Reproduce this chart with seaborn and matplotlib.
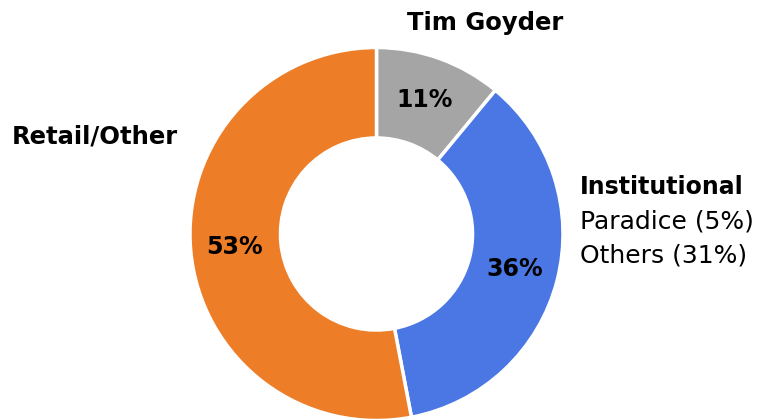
import matplotlib
matplotlib.use("Agg")
import matplotlib.pyplot as plt
import seaborn as sns

# Data
categories = ["Tim Goyder", "Institutional", "Retail/Other"]
shares = [11, 36, 53]
colors = ["#A5A5A5", "#4A77E3", "#ED7D27"]
inst_breakdown = ["Paradice (5%)", "Others (31%)"]

sns.set_theme(style="white")
plt.rcParams["font.family"] = ["DejaVu Sans"]

W, H = 780, 419
fig = plt.figure(figsize=(W / 100, H / 100), dpi=100)
fig.patch.set_facecolor("white")

# Donut axes, placed in pixel terms
cx, cy, R = 376.5, 419 - 234, 186.5
ax = fig.add_axes([(cx - R) / W, (cy - R) / H, 2 * R / W, 2 * R / H])
wedges, texts, autotexts = ax.pie(
    shares,
    colors=colors,
    startangle=90,
    counterclock=False,
    radius=1.0,
    autopct=lambda p: f"{p:.0f}%",
    pctdistance=0.765,
    wedgeprops=dict(width=0.485, edgecolor="white", linewidth=2.5),
    textprops=dict(fontsize=17, fontweight="bold", color="black"),
)
ax.set_xlim(-1, 1)
ax.set_ylim(-1, 1)
ax.set_aspect("equal")
ax.axis("off")

def fx(px):
    return px / W

def fy(py):
    return 1 - py / H

fig.text(fx(485), fy(23), categories[0], ha="center", va="center",
         fontsize=17.5, fontweight="bold", color="black")
fig.text(fx(12), fy(137), categories[2], ha="left", va="center",
         fontsize=17.5, fontweight="bold", color="black")
fig.text(fx(580), fy(187), categories[1], ha="left", va="center",
         fontsize=17, fontweight="bold", color="black")
fig.text(fx(580), fy(221), inst_breakdown[0], ha="left", va="center",
         fontsize=18, color="black")
fig.text(fx(580), fy(255), inst_breakdown[1], ha="left", va="center",
         fontsize=18, color="black")

fig.savefig("out.png", dpi=100, facecolor="white")
